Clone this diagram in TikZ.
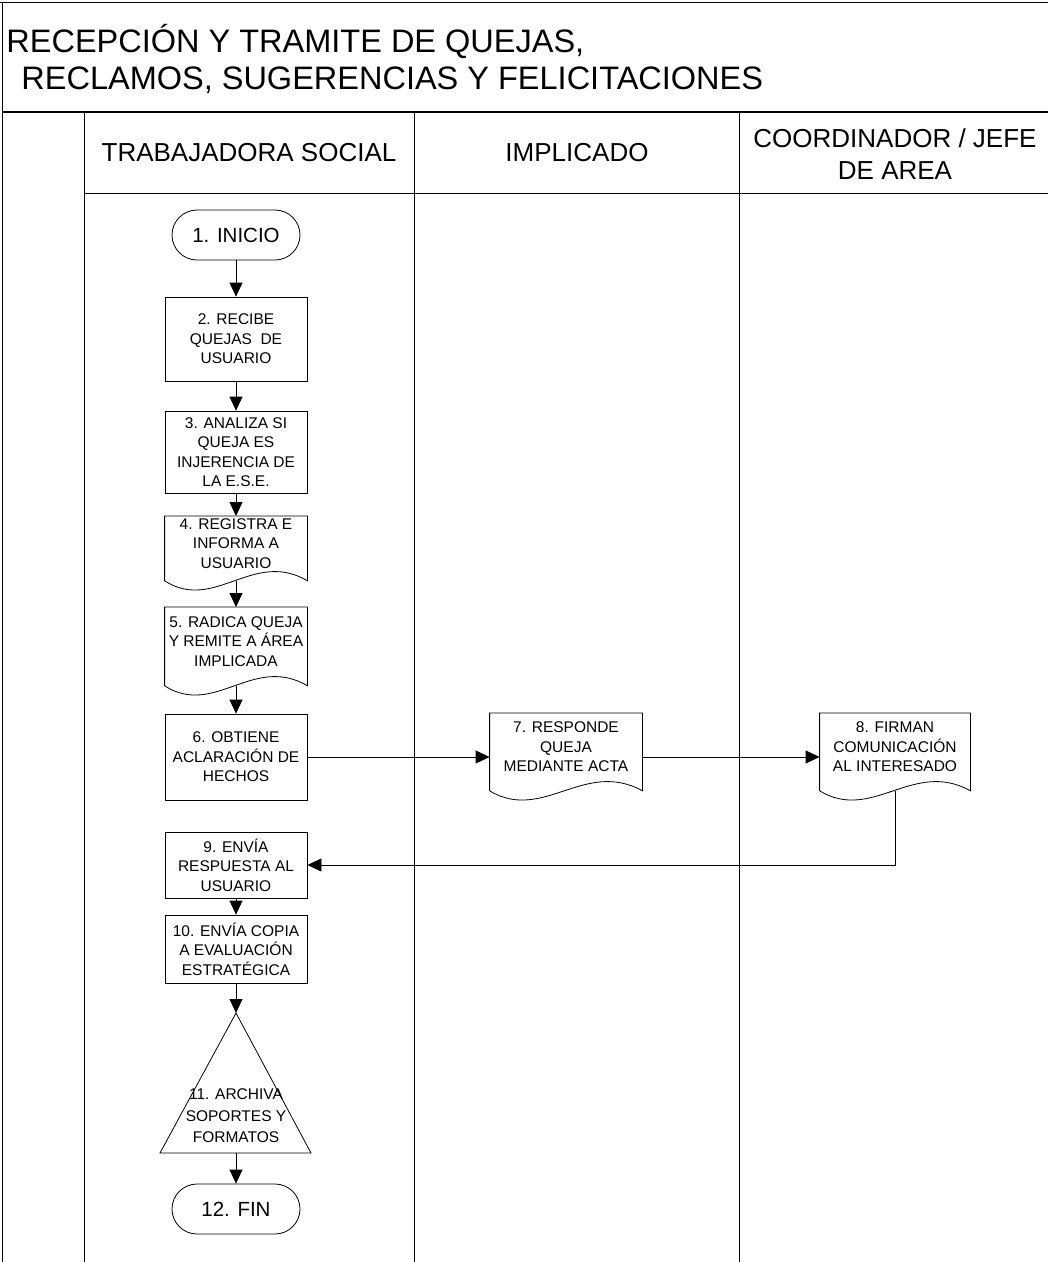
\documentclass[tikz,border=0pt]{standalone}
\usepackage{fontspec}
\setmainfont{Liberation Sans}
\usetikzlibrary{arrows.meta,calc}

\begin{document}
\begin{tikzpicture}[x=1pt, y=-1pt, line width=0.8pt,
  box/.style={draw, minimum width=142pt, align=center, inner sep=2pt, font=\fontsize{15.5}{19.5}\selectfont},
  docbox/.style={minimum width=#1, align=center, inner sep=2pt, text depth=10pt, font=\fontsize{15.5}{19.5}\selectfont},
  term/.style={draw, rounded corners=25pt, minimum width=128pt, minimum height=50pt, font=\fontsize{20.5}{25}\selectfont},
  arr/.style={-{Triangle[length=14pt,width=13pt]}},
  lane/.style={align=center, font=\fontsize{26}{32}\selectfont}]
  \useasboundingbox (0,0) rectangle (1048,1262);
  % frame and lanes
  \draw (0,2) -- (1048,2);
  \draw (2,2) -- (2,1262);
  \draw[line width=1.6pt] (2,112) -- (1048,112);
  \draw (84,193) -- (1048,193);
  \foreach \x in {84,414,739} {\draw (\x,112) -- (\x,1262);}
  % title
  \node[anchor=base west, inner sep=0pt, font=\fontsize{32.5}{40}\selectfont] (title1) at (6,52) {RECEPCIÓN Y TRAMITE DE QUEJAS,};
  \node[anchor=base west, inner sep=0pt, font=\fontsize{32.5}{40}\selectfont] (title2) at (21,89) {RECLAMOS, SUGERENCIAS Y FELICITACIONES};
  \node[lane] (lane1) at (249,153) {TRABAJADORA SOCIAL};
  \node[lane] (lane2) at (577,153) {IMPLICADO};
  \node[lane] (lane3) at (895,154) {COORDINADOR / JEFE\\DE AREA};
  % steps
  \node[term] (n1) at (236,235) {1. INICIO};
  \node[box, minimum height=84pt] (n2) at (236,339) {2. RECIBE\\QUEJAS \ DE\\USUARIO};
  \node[box, minimum height=82pt] (n3) at (236,452) {3. ANALIZA SI\\QUEJA ES\\INJERENCIA DE\\LA E.S.E.};
  \node[docbox=142pt, minimum height=64pt, anchor=north] (d4) at (236,516) {4. REGISTRA E\\INFORMA A\\USUARIO};
  \node[docbox=142pt, minimum height=78pt, anchor=north] (d5) at (236,607) {5. RADICA QUEJA\\Y REMITE A ÁREA\\IMPLICADA};
  \node[box, minimum height=86pt] (n6) at (236,757) {6. OBTIENE\\ACLARACIÓN DE\\HECHOS};
  \node[docbox=152pt, minimum height=77pt, anchor=north] (d7) at (566,713) {7. RESPONDE\\QUEJA\\MEDIANTE ACTA};
  \node[docbox=150pt, minimum height=77pt, anchor=north] (d8) at (895,713) {8. FIRMAN\\COMUNICACIÓN\\AL INTERESADO};
  \node[box, minimum height=66pt] (n9) at (236,865) {9. ENVÍA\\RESPUESTA AL\\USUARIO};
  \node[box, minimum height=68pt] (n10) at (236,949) {10. ENVÍA COPIA\\A EVALUACIÓN\\ESTRATÉGICA};
  \coordinate (a11) at (236,1013);
  \coordinate (b11) at (236,1153);
  \draw (a11) -- (160,1153) -- (311,1153) -- cycle;
  \node[align=center, inner sep=0pt, font=\fontsize{15.5}{21.5}\selectfont] (n11) at (236,1116) {11. ARCHIVA\\SOPORTES Y\\FORMATOS};
  \node[term] (n12) at (236,1209) {12. FIN};
  % document outlines
  \foreach \d in {d4,d5,d7,d8} {
    \draw (\d.south west) -- (\d.north west) -- (\d.north east) -- (\d.south east)
      .. controls ($(\d.south west)!0.62!(\d.south east)+(0,-32)$) and ($(\d.south west)!0.35!(\d.south east)+(0,32)$) .. (\d.south west);
  }
  % connectors
  \draw[arr] (n1) -- (n2);
  \draw[arr] (n2) -- (n3);
  \draw[arr] (n3) -- (d4);
  \draw[arr] (d4.south) -- (d5);
  \draw[arr] (d5.south) -- (n6);
  \draw[arr] (n6) -- (n6 -| d7.west);
  \draw[arr] (n6 -| d7.east) -- (n6 -| d8.west);
  \draw[arr] (d8.south) |- (n9.east);
  \draw[arr] (n9) -- (n10);
  \draw[arr] (n10) -- (a11);
  \draw[arr] (b11) -- (n12);
\end{tikzpicture}
\end{document}
